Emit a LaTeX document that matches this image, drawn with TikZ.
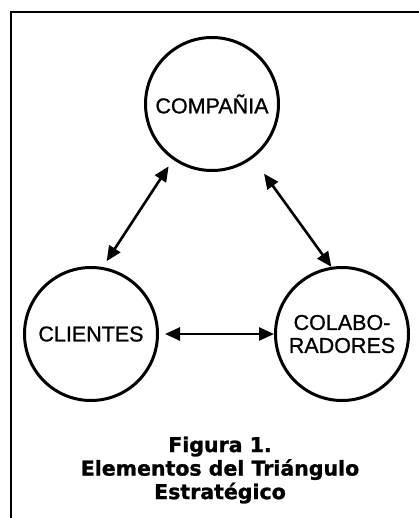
\documentclass[tikz,border=0pt]{standalone}
\usepackage{fontspec}
\setmainfont{Liberation Sans}
\newfontfamily\nodefont{Liberation Sans}[UprightFeatures={FakeBold=1}]
\newfontfamily\captionfont{DejaVu Sans Bold}[UprightFeatures={FakeBold=1.2}]
\usetikzlibrary{
  arrows.meta,
  positioning,
}
\tikzset{
  >={Triangle[length=15pt,width=13pt]},
}

\begin{document}
\begin{tikzpicture}[
      every node/.style={font=\nodefont\fontsize{21.5}{23}\selectfont},
      element/.style={circle, draw, line width=3pt, minimum size=133pt, inner sep=0pt, align=center},
      link/.style={<->, line width=2.6pt},
      node distance=230pt and 121pt,
      on grid,
    ]
      \useasboundingbox (0,0) rectangle (419pt,-518pt);
      \draw [line width=2.2pt] (419pt,-12pt) -- (11pt,-12pt) -- (11pt,-518pt);

      \node [element] (compania) at (212pt,-104pt) {COMPAÑIA};
      \node [element, below left=230pt and 121pt of compania] (clientes) {CLIENTES};
      \node [element, below right=230pt and 130pt of compania] (colaboradores) {COLABO-\\RADORES};

      \draw [link, shorten <=8pt, shorten >=7pt] (compania.235) -- (clientes.80);
      \draw [link, shorten <=19pt] (compania.307) -- (colaboradores.99);
      \draw [link, shorten <=6pt] (clientes.east) -- (colaboradores.west);

      \node [align=center, font=\captionfont\fontsize{20.5}{23.5}\selectfont] (caption) at (220pt,-470pt)
        {Figura 1.\\Elementos del Triángulo\\Estratégico};
    \end{tikzpicture}
\end{document}
